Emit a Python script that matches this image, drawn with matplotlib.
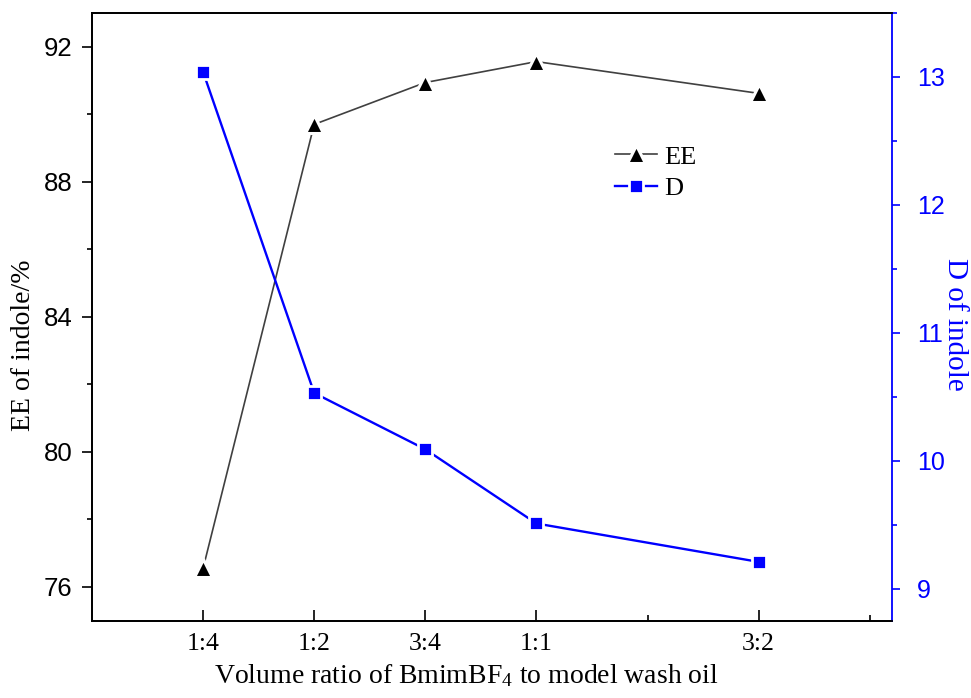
import matplotlib
matplotlib.use("Agg")
import matplotlib.pyplot as plt
from matplotlib.ticker import FixedLocator, MultipleLocator

plt.rcParams["mathtext.default"] = "regular"
plt.rcParams["font.family"] = ["Liberation Serif", "DejaVu Serif"]

# Volume ratio of BmimBF4 to model wash oil
ratio_labels = ["1:4", "1:2", "3:4", "1:1", "3:2"]
ratio_values = [0.25, 0.5, 0.75, 1.0, 1.5]

# Extraction efficiency (%) and distribution coefficient of indole
ee_values = [76.55, 89.70, 90.94, 91.56, 90.62]
d_values = [13.04, 10.53, 10.09, 9.51, 9.21]

blue = "#0000ff"
sans = ["Liberation Sans", "DejaVu Sans"]

fig = plt.figure(figsize=(9.71, 6.98), dpi=100)
ax = fig.add_axes([0.0947, 0.1107, 0.8239, 0.8707])
ax2 = ax.twinx()

ee_line, = ax.plot(ratio_values, ee_values, color="#404040", lw=1.2,
                   marker="^", ms=13, mfc="black", mec="white", mew=2.2,
                   zorder=3)
d_line, = ax2.plot(ratio_values, d_values, color=blue, lw=1.7,
                   marker="s", ms=10.5, mfc=blue, mec="white", mew=2.0,
                   zorder=3)

ax.set_xlim(0, 1.8)
ax.set_ylim(75, 93)
ax2.set_ylim(8.75, 13.5)

# x axis: inward ticks
ax.xaxis.set_major_locator(FixedLocator(ratio_values))
ax.set_xticklabels(ratio_labels, fontsize=18.5)
ax.xaxis.set_minor_locator(FixedLocator([1.25, 1.75]))
ax.tick_params(axis="x", which="major", direction="in", length=8, width=1.2, pad=9)
ax.tick_params(axis="x", which="minor", direction="in", length=4.5, width=1.2)

# left axis
ax.yaxis.set_major_locator(MultipleLocator(4))
ax.yaxis.set_minor_locator(MultipleLocator(2))
ax.tick_params(axis="y", which="major", direction="out", length=7, width=1.2, pad=7)
ax.tick_params(axis="y", which="minor", direction="out", length=3.5, width=1.2)
for lab in ax.get_yticklabels():
    lab.set_fontfamily(sans)
    lab.set_fontsize(18.5)

# right axis
ax2.yaxis.set_major_locator(MultipleLocator(1))
ax2.yaxis.set_minor_locator(MultipleLocator(0.5))
ax2.tick_params(axis="y", which="major", direction="out", length=6, width=1.2,
                pad=12, colors=blue)
ax2.tick_params(axis="y", which="minor", direction="out", length=3.5, width=1.2,
                colors=blue)
for lab in ax2.get_yticklabels():
    lab.set_fontfamily(sans)
    lab.set_fontsize(18)

for s in ["left", "bottom", "top"]:
    ax.spines[s].set_linewidth(1.3)
    ax2.spines[s].set_linewidth(1.3)
ax2.spines["right"].set_color(blue)
ax2.spines["right"].set_linewidth(1.3)
ax.spines["right"].set_visible(False)

# axis titles, anchored at their centres
ax.set_xlabel("Volume ratio of BmimBF$_{4}$ to model wash oil", fontsize=20,
              va="center", ha="center")
ax.xaxis.set_label_coords(0.4675, -0.090)
ax.set_ylabel("EE of indole/%", fontsize=20, va="center", ha="center")
ax.yaxis.set_label_coords(-0.0856, 0.454)
ax2.set_ylabel("D of indole", fontsize=21, color=blue, rotation=270,
               va="center", ha="center")
ax2.yaxis.set_label_coords(1.0788, 0.487)

ax.legend([ee_line, d_line], ["EE", "D"], loc="upper left",
          bbox_to_anchor=(0.64, 0.80), frameon=False, fontsize=19,
          handlelength=1.6, handletextpad=0.3, labelspacing=0.3,
          borderaxespad=0)

fig.savefig("out.png", dpi=100)
